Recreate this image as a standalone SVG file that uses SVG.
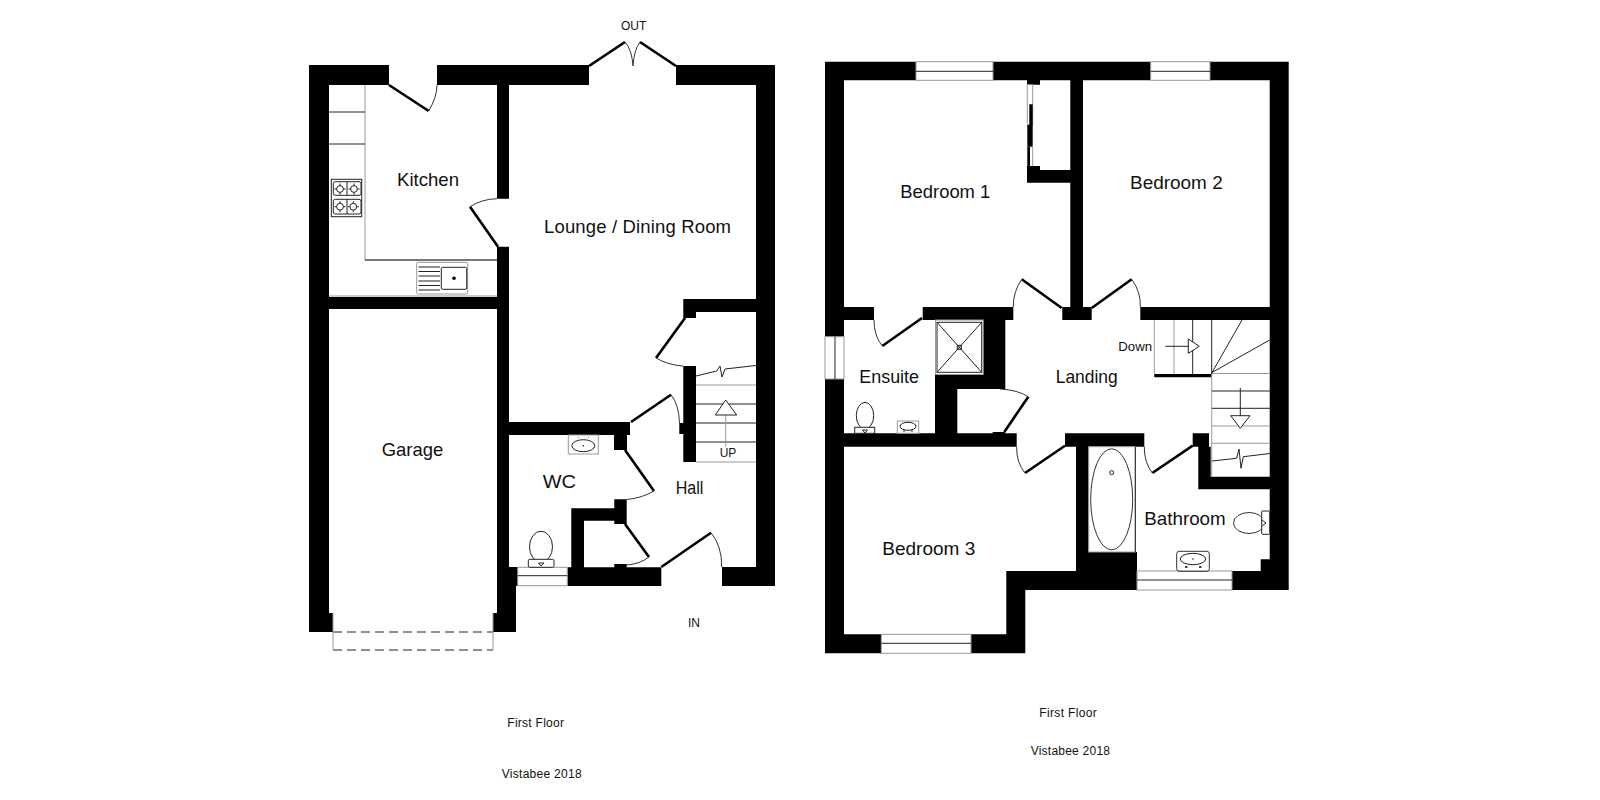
<svg xmlns="http://www.w3.org/2000/svg" width="1600" height="800" viewBox="0 0 1600 800">
<style>
text{font-family:"Liberation Sans",Arial,sans-serif;fill:#111}
.r{font-size:18.5px}
.s{font-size:12px}
.w{fill:#000;stroke:none}
.l{fill:none;stroke:#222;stroke-width:1}
.g{fill:none;stroke:#999;stroke-width:1}
.gw{fill:#fff;stroke:#999;stroke-width:1}
.f{fill:#fff;stroke:#222;stroke-width:1}
.d{fill:none;stroke:#000;stroke-width:2.600}
.a{fill:none;stroke:#333;stroke-width:1}
</style>
<rect width="1600" height="800" fill="#fff"/>
<g id="ground-floor">
<g id="ground-walls">
<path class="w" d="M309 65H389V85H329V613H333V632H309Z"/>
<path class="w" d="M437 65H589V85H509V198.700H497V85H437Z"/>
<path class="w" d="M676 65H775V586H722V567H756V85H676Z"/>
<rect class="w" x="329" y="297" width="168" height="12"/>
<path class="w" d="M497 246.700H509V422H630V435H627V450H614V435H509V567H518V586H516V632H493V613H497Z"/>
<path class="w" d="M683.300 299H756V312H696V318H683.300Z"/>
<path class="w" d="M683.300 366H696V462H683.300V434H679.300V423H683.300Z"/>
<path class="w" d="M614.300 499.300H626.700V524H614.300V520.700H584V567.300H614.300V564H626.700V567.300H661.300V586H567.300V567.300H571.300V508.300H614.300Z"/>
</g>
<g id="ground-window">
<rect class="gw" x="517.700" y="567.300" width="49.600" height="18.400"/>
<path class="l" d="M517.700 575.700H567.300"/>
</g>
<g id="garage-door">
<path fill="none" stroke="#222" stroke-width="1" stroke-dasharray="9 5" d="M333 632H493M333 650H493"/>
<path class="g" d="M333 613V650M493 613V650"/>
</g>
<g id="ground-doors">
<path class="d" d="M389 85L428.700 111"/><path class="a" d="M428.700 111Q437 97 437 85"/>
<path class="d" d="M589 66L625 42"/><path class="a" d="M625 42Q632 50 633 66"/>
<path class="d" d="M676 66L640 42"/><path class="a" d="M640 42Q634 50 633 66"/>
<path class="d" d="M498 246.700L470 206.700"/><path class="a" d="M470 206.700Q482 199 497 198.700"/>
<path class="d" d="M685 318L656 358"/><path class="a" d="M656 358Q668 365 683 366"/>
<path class="d" d="M631 422L671 394.700"/><path class="a" d="M671 394.700Q679 405 679.500 423"/>
<path class="d" d="M625 450L654 491"/><path class="a" d="M654 491Q642 498 626.700 499.500"/>
<path class="d" d="M625 524L649 557"/><path class="a" d="M649 557Q640 564 626.700 565"/>
<path class="d" d="M661.300 567L711 532.700"/><path class="a" d="M711 532.700Q722 546 721.700 567"/>
</g>
<g id="ground-stairs">
<path class="g" d="M696 385H756M696 462H756"/>
<path class="l" d="M696 404H756M696 423H756M696 442H756"/>
<path class="l" d="M696 376L716.700 371L720 366L722 377L725 369L756 365.500"/>
<path class="g" d="M725.700 446.700V415"/>
<path class="f" d="M715.300 415H736.700L725.700 400Z"/>
</g>
<g id="kitchen-fittings">
<path class="g" d="M365 85V260H497M329 296H497"/>
<path class="l" d="M329 112H365M329 144H365M365 260H497"/>
<rect class="l" x="331.300" y="179.300" width="30.400" height="37.400"/>
<rect class="l" x="333.300" y="181.700" width="27.700" height="13.600" rx="2"/>
<rect class="l" x="333.300" y="199.300" width="27.700" height="14.700" rx="2"/>
<path class="l" d="M347 182V195M347 199V214"/>
<circle class="l" cx="340" cy="189" r="3.400"/><circle class="l" cx="354" cy="189" r="3.400"/>
<circle class="l" cx="340" cy="206.700" r="3.400"/><circle class="l" cx="353.300" cy="206.700" r="3.400"/>
<path class="l" d="M340 183.500v2M340 192.500v2M334.500 189h2M343.500 189h2M354 183.500v2M354 192.500v2M348.500 189h2M357.500 189h2M340 201.200v2M340 210.200v2M334.500 206.700h2M343.500 206.700h2M353.300 201.200v2M353.300 210.200v2M347.800 206.700h2M356.800 206.700h2"/>
<rect class="gw" x="416.700" y="262.300" width="51" height="31.700" rx="1.500"/>
<rect class="f" x="441.300" y="267.300" width="25.400" height="22" rx="1.500"/>
<path class="l" d="M418.500 267H440M418.500 271.500H440M418.500 276H440M418.500 281H440M418.500 285.500H440M418.500 290H440"/>
<circle cx="454" cy="278.300" r="1.800" fill="#000"/>
</g>
<g id="wc-fittings">
<rect class="gw" x="568.300" y="435" width="30" height="19"/>
<ellipse class="l" cx="583.300" cy="445.700" rx="11.500" ry="6"/>
<circle cx="583.300" cy="445.700" r=".8" fill="#111"/>
<path class="l" d="M578 437.500h.6M588 437.500h.6"/>
<ellipse class="l" cx="541" cy="546.700" rx="11.500" ry="15.500"/>
<rect class="f" x="528.300" y="559.300" width="25.700" height="8" rx="1.500"/>
<path class="l" d="M538.500 563H544L541 566Z"/>
</g>
</g>
<g id="first-floor">
<g id="first-walls">
<path class="w" d="M825 61.700H916V80.300H844V307H874V320H844V336.700H825Z"/>
<path class="w" d="M993 61.700H1150.700V80.300H1083V307H1091.700V320H1062.300V307H1070.300V182.700H1027V166H1040V170H1070.300V80.300H1040V84.700H1027V80.300H993Z"/>
<path class="w" d="M1210 61.700H1288.700V590H1232V571H1260.700V559.300H1269.700V489.300H1198.300V446.700H1192.700V433.300H1208.700V374H1212V377.300H1154.300V374H1208.700V433.300H1209V446.700H1210.700V476.700H1269.700V320H1140.300V307H1269.700V80.300H1210Z"/>
<rect class="w" x="922.700" y="307" width="90.600" height="13"/>
<path class="w" d="M935 320H1005.300V389H957.300V433.300H992.700V432H1005V433.300H1016.700V446.700H844V634.300H881.300V653.300H825V379H844V433.300H935Z"/>
<path class="w" d="M971 634.300H1006.300V571H1076V446.700H1065V433.300H1144.300V446.700H1088.700V552H1137V590H1025.300V653.300H971Z"/>
</g>
<g id="closet-door">
<rect class="gw" x="1027.300" y="84.700" width="5.400" height="40.300"/>
<rect class="w" x="1029.300" y="104.300" width="3.400" height="20.700"/>
<rect class="w" x="1027.300" y="125" width="5.400" height="21.700"/>
<rect class="w" x="1027.300" y="146.700" width="2.700" height="19.300"/>
<path class="g" d="M1032.700 146.700V166"/>
</g>
<g id="first-windows">
<rect class="gw" x="916" y="61.700" width="77" height="18.600"/><path class="l" d="M916 71.300H993"/>
<rect class="gw" x="1150.700" y="61.700" width="59.300" height="18.600"/><path class="l" d="M1150.700 71.300H1210"/>
<rect class="gw" x="825" y="336.700" width="19" height="42.300"/><path class="l" d="M835 336.700V379"/>
<rect class="gw" x="881.300" y="634.300" width="89.700" height="19"/><path class="l" d="M881.300 643.300H971"/>
<rect class="gw" x="1137" y="571" width="95" height="19"/><path class="l" d="M1137 580H1232"/>
</g>
<g id="first-doors">
<path class="d" d="M1061.700 308L1021.700 279.300"/><path class="a" d="M1021.700 279.300Q1013 292 1013.300 307"/>
<path class="d" d="M1091.700 308L1131.700 279.300"/><path class="a" d="M1131.700 279.300Q1141 292 1140.300 307"/>
<path class="d" d="M922 318L882.300 346"/><path class="a" d="M882.300 346Q874 336 874 320"/>
<path class="d" d="M1004.300 432L1028.300 396.700"/><path class="a" d="M1028.300 396.700Q1018 390 1000 389"/>
<path class="d" d="M1065 445.700L1025 473"/><path class="a" d="M1025 473Q1016 462 1016.700 446.700"/>
<path class="d" d="M1192.700 445.700L1152.300 473"/><path class="a" d="M1152.300 473Q1144 462 1144.300 446.700"/>
</g>
<g id="first-stairs">
<path class="g" d="M1154.300 320V374M1174 320V374M1211.700 374V476.700M1212 373.500H1270"/>
<path class="l" d="M1192.700 320V374M1211.700 320V374M1212 372.500L1242 320M1212 372.500L1269.700 340"/>
<path class="l" d="M1165.300 346.300H1188.300"/>
<path class="f" d="M1188.300 339V353.300L1199.300 346.300Z"/>
<path class="g" d="M1212 426H1270M1212 443.300H1270"/>
<path class="l" d="M1212 391H1270M1212 408.300H1270"/>
<path class="l" d="M1240.300 388V415.700"/>
<path class="f" d="M1230.700 415.700H1250L1240.300 428.300Z"/>
<path class="l" d="M1212 461L1236.700 458.300L1239 449L1241 468.300L1243.300 456.700L1270 453.500"/>
</g>
<g id="first-fittings">
<rect class="gw" x="935.500" y="320" width="47.700" height="54.500"/>
<rect class="l" x="937" y="322.300" width="44.700" height="50"/>
<path class="l" d="M937 322.300L981.700 372.300M981.700 322.300L937 372.300"/>
<rect class="l" x="957.300" y="345.300" width="4" height="4"/>
<ellipse class="l" cx="865" cy="415.700" rx="8.700" ry="13.300"/>
<rect class="f" x="854.700" y="427.300" width="20" height="6"/>
<path class="l" d="M862.500 430H867.500L865 433Z"/>
<rect class="gw" x="897.300" y="421" width="21.400" height="12.300"/>
<ellipse class="l" cx="908" cy="426.300" rx="8" ry="4"/>
<path class="l" d="M903 431h2M911 431h2"/>
<rect class="gw" x="1088.700" y="446.700" width="46.600" height="105.300"/>
<path class="l" d="M1135.300 446.700V552"/>
<ellipse class="a" cx="1111.700" cy="499.300" rx="21" ry="50.500"/>
<circle class="l" cx="1111.700" cy="472.700" r="2"/>
<ellipse class="a" cx="1249" cy="523" rx="15.500" ry="10.500"/>
<rect class="f" x="1261.700" y="511" width="8" height="23.300" rx="1"/>
<path class="l" d="M1262 520L1266 523L1262 526"/>
<rect class="a" x="1176.700" y="551.300" width="32.600" height="20" rx="2.500"/>
<ellipse class="l" cx="1193" cy="559" rx="12.700" ry="5.700"/>
<circle cx="1193" cy="559" r=".8" fill="#111"/>
<path d="M1185 567h2.500M1199 567h2.500" stroke="#000" stroke-width="1.500"/>
</g>
</g>
<g id="labels">
<text class="r" x="397" y="185.700" textLength="62" lengthAdjust="spacingAndGlyphs">Kitchen</text>
<text class="r" x="544" y="233" textLength="187" lengthAdjust="spacing">Lounge / Dining Room</text>
<text class="s" x="621" y="30">OUT</text>
<text class="r" x="381.700" y="456" textLength="61.600" lengthAdjust="spacingAndGlyphs">Garage</text>
<text class="r" x="542.700" y="488" textLength="33.300" lengthAdjust="spacingAndGlyphs">WC</text>
<text class="r" x="675.700" y="494" textLength="27.600" lengthAdjust="spacingAndGlyphs">Hall</text>
<text class="s" x="719.700" y="457.300">UP</text>
<text class="s" x="688" y="627.300">IN</text>
<text class="s" x="507.300" y="727.300" textLength="56.700" lengthAdjust="spacing">First Floor</text>
<text class="s" x="501.700" y="777.700" textLength="80" lengthAdjust="spacing">Vistabee 2018</text>
<text class="r" x="900.300" y="198.300" textLength="90" lengthAdjust="spacingAndGlyphs">Bedroom 1</text>
<text class="r" x="1130" y="189" textLength="92.700" lengthAdjust="spacingAndGlyphs">Bedroom 2</text>
<text class="r" x="859.300" y="382.700" textLength="59.700" lengthAdjust="spacingAndGlyphs">Ensuite</text>
<text class="r" x="1055.700" y="382.700" textLength="62" lengthAdjust="spacingAndGlyphs">Landing</text>
<text class="s" x="1118.300" y="350.700" textLength="33.700" lengthAdjust="spacingAndGlyphs">Down</text>
<text class="r" x="1144.300" y="525" textLength="81.400" lengthAdjust="spacingAndGlyphs">Bathroom</text>
<text class="r" x="882.300" y="555" textLength="93" lengthAdjust="spacingAndGlyphs">Bedroom 3</text>
<text class="s" x="1039.300" y="717.300" textLength="57.400" lengthAdjust="spacing">First Floor</text>
<text class="s" x="1030.700" y="755" textLength="79.300" lengthAdjust="spacing">Vistabee 2018</text>
</g>
</svg>
